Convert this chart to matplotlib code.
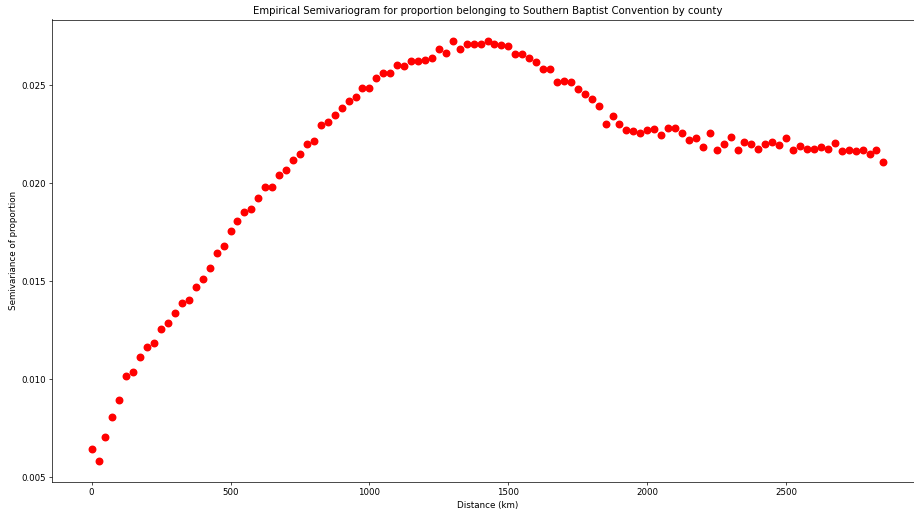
import numpy as np
import matplotlib
matplotlib.use('Agg')
import matplotlib.pyplot as plt

# lag distances (km) and empirical semivariance at each lag
distance = np.arange(0, 2851, 25)
semivariance = [
    0.00644, 0.00583, 0.00706, 0.00806, 0.00893, 0.01014, 0.01036, 0.01112,
    0.01162, 0.01184, 0.01257, 0.01286, 0.01338, 0.01391, 0.01403, 0.01471,
    0.01512, 0.01566, 0.01644, 0.01679, 0.01754, 0.01805, 0.01854, 0.01869,
    0.01927, 0.01980, 0.01980, 0.02041, 0.02068, 0.02117, 0.02148, 0.02201,
    0.02214, 0.02298, 0.02313, 0.02347, 0.02384, 0.02418, 0.02442, 0.02486,
    0.02486, 0.02536, 0.02563, 0.02563, 0.02602, 0.02599, 0.02622, 0.02624,
    0.02631, 0.02641, 0.02685, 0.02663, 0.02726, 0.02685, 0.02709, 0.02709,
    0.02709, 0.02728, 0.02709, 0.02706, 0.02701, 0.02660, 0.02660, 0.02641,
    0.02616, 0.02582, 0.02582, 0.02514, 0.02524, 0.02517, 0.02483, 0.02453,
    0.02430, 0.02393, 0.02303, 0.02343, 0.02303, 0.02272, 0.02264, 0.02254,
    0.02274, 0.02276, 0.02245, 0.02281, 0.02284, 0.02254, 0.02219, 0.02230,
    0.02185, 0.02257, 0.02167, 0.02199, 0.02238, 0.02167, 0.02211, 0.02201,
    0.02177, 0.02199, 0.02211, 0.02194, 0.02230, 0.02170, 0.02192, 0.02177,
    0.02177, 0.02185, 0.02177, 0.02207, 0.02162, 0.02172, 0.02162, 0.02168,
    0.02148, 0.02172, 0.02106,
]

fig = plt.figure(figsize=(9.14, 5.14), dpi=100)
ax = fig.add_axes([52/914, 32/514, 871/914, 462.5/514])

ax.scatter(distance, semivariance, c='red', s=22, zorder=3)

ax.set_xticks([0, 500, 1000, 1500, 2000, 2500])
ax.tick_params(labelsize=6.2, length=2.2, width=0.5, pad=2.2)
for sp in ax.spines.values():
    sp.set_linewidth(0.5)

ax.set_title('Empirical Semivariogram for proportion belonging to Southern Baptist Convention by county',
             fontsize=7.3, pad=3.7)
ax.set_xlabel('Distance (km)', fontsize=6.3, labelpad=2.5)
ax.set_ylabel('Semivariance of proportion', fontsize=6.3, labelpad=2.5)

fig.savefig('out.png', dpi=100)
